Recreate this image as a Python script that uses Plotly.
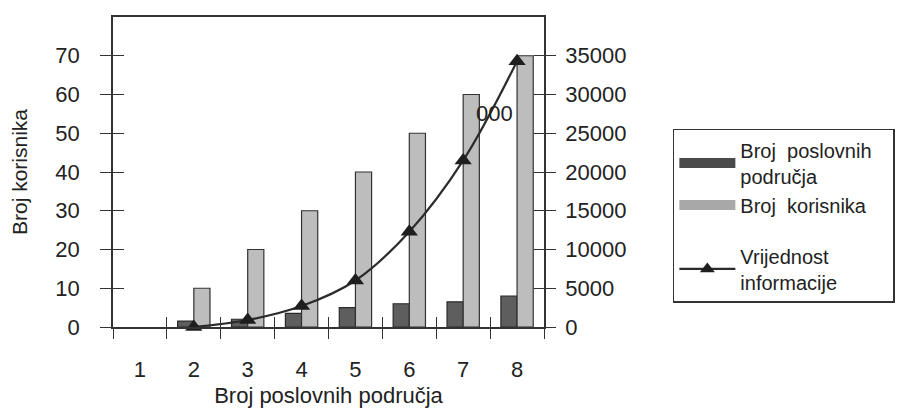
import plotly.graph_objects as go

# ---- data ----
categories = ["1", "2", "3", "4", "5", "6", "7", "8"]
broj_podrucja = [None, 1.5, 2, 3.5, 5, 6, 6.5, 8]          # dark bars, left axis
broj_korisnika = [None, 10, 20, 30, 40, 50, 60, 70]        # light bars, left axis
vrijednost_informacije = [None, 0, 900, 2700, 6000, 12300, 21500, 34300]  # line, right axis
left_ticks = [0, 10, 20, 30, 40, 50, 60, 70]
right_ticks = [0, 5000, 10000, 15000, 20000, 25000, 30000, 35000]

FONT = "Liberation Sans, Arial, sans-serif"
INK = "#222222"
DARK = "#5e5e5e"
LIGHT = "#bdbdbd"
NB = "\u00a0"

fig = go.Figure()
fig.add_trace(go.Bar(
    x=categories, y=broj_podrucja, name="Broj poslovnih<br>područja", showlegend=False,
    marker=dict(color=DARK, line=dict(color="#2a2a2a", width=1.2)),
))
fig.add_trace(go.Bar(
    x=categories, y=broj_korisnika, name="Broj korisnika", showlegend=False,
    marker=dict(color=LIGHT, line=dict(color="#333333", width=1.2)),
))
fig.add_trace(go.Scatter(
    x=categories, y=vrijednost_informacije, name="Vrijednost<br>informacije",
    yaxis="y2", mode="lines+markers", line=dict(color="#2b2b2b", width=2.2, shape="spline"),
    marker=dict(symbol="triangle-up", size=15, color="#1e1e1e"), cliponaxis=False,
    showlegend=False,
))
# legend entries (wide swatches like the reference)
fig.add_trace(go.Scatter(x=categories, y=[None] * len(categories), mode="lines",
                         name="Broj" + NB * 2 + "poslovnih" + NB * 3 + "<br>područja",
                         line=dict(color="#4a4a4a", width=10),
                         legendgroup="bars", hoverinfo="skip"))
fig.add_trace(go.Scatter(x=categories, y=[None] * len(categories), mode="lines",
                         name="Broj" + NB * 2 + "korisnika", line=dict(color="#a8a8a8", width=10),
                         legendgroup="bars", hoverinfo="skip"))
fig.add_trace(go.Scatter(x=categories, y=[None] * len(categories), yaxis="y2",
                         mode="lines+markers", name="Vrijednost<br>informacije",
                         line=dict(color="#2b2b2b", width=2.2),
                         marker=dict(symbol="triangle-up", size=13, color="#1e1e1e"),
                         legendgroup="line", hoverinfo="skip"))
# invisible traces for the inner half of the crossing tick marks
fig.add_trace(go.Scatter(x=categories, y=[None] * len(categories), xaxis="x3", yaxis="y3",
                         showlegend=False, hoverinfo="skip"))
fig.add_trace(go.Scatter(x=categories, y=[None] * len(categories), xaxis="x3", yaxis="y4",
                         showlegend=False, hoverinfo="skip"))

tick_font = dict(family=FONT, size=22, color=INK)
fig.update_layout(
    width=908, height=402,
    margin=dict(l=105, r=372, t=9, b=83),
    paper_bgcolor="white", plot_bgcolor="white",
    barmode="group", bargap=0.4, bargroupgap=0,
    font=dict(family=FONT, color=INK),
    xaxis=dict(
        type="category", range=[-0.5, 7.5], tickson="boundaries", automargin=False,
        ticks="outside", ticklen=10, tickcolor="#333", tickwidth=1.3,
        showline=True, linecolor="#333", linewidth=1.6, mirror=True,
        showgrid=False, tickfont=tick_font, ticklabelstandoff=22,
        title=dict(text="Broj poslovnih područja", font=dict(family=FONT, size=22, color=INK), standoff=6),
    ),
    yaxis=dict(
        range=[0, 80], tickvals=left_ticks, ticks="outside", ticklen=11, automargin=False,
        tickcolor="#333", tickwidth=1.3, showline=True, linecolor="#333", linewidth=1.6,
        showgrid=False, zeroline=False, tickfont=tick_font, ticklabelstandoff=16,
        title=dict(text="Broj korisnika", font=dict(family=FONT, size=21, color=INK), standoff=24),
    ),
    yaxis2=dict(
        overlaying="y", side="right", range=[0, 40000], tickvals=right_ticks, tickformat="d",
        ticks="outside", ticklen=10, tickcolor="#333", tickwidth=1.3, automargin=False,
        showline=True, linecolor="#333", linewidth=1.6, showgrid=False, zeroline=False,
        tickfont=tick_font, ticklabelstandoff=5,
    ),
    xaxis3=dict(
        overlaying="x", type="category", range=[-0.5, 7.5], tickson="boundaries",
        ticks="inside", ticklen=10, tickcolor="#333", tickwidth=1.3, automargin=False,
        showticklabels=False, showgrid=False, showline=False,
    ),
    yaxis3=dict(
        overlaying="y", side="left", range=[0, 80], tickvals=left_ticks, ticks="inside",
        ticklen=11, tickcolor="#333", tickwidth=1.3, showticklabels=False, automargin=False,
        showgrid=False, zeroline=False, showline=False,
    ),
    yaxis4=dict(
        overlaying="y", side="right", range=[0, 40000], tickvals=right_ticks, ticks="inside",
        ticklen=10, tickcolor="#333", tickwidth=1.3, showticklabels=False, automargin=False,
        showgrid=False, zeroline=False, showline=False,
    ),
    legend=dict(
        x=1.299, y=0.639, xanchor="left", yanchor="top",
        bordercolor="#333", borderwidth=1.5, bgcolor="white",
        font=dict(family=FONT, size=20, color=INK), itemwidth=56,
        traceorder="grouped", tracegroupgap=22,
    ),
    showlegend=True,
    annotations=[dict(text="000", xref="paper", yref="paper", x=0.886, y=0.69,
                      xanchor="center", yanchor="middle",
                      showarrow=False, font=dict(family=FONT, size=22, color=INK))],
)

fig.write_html("out.html")
